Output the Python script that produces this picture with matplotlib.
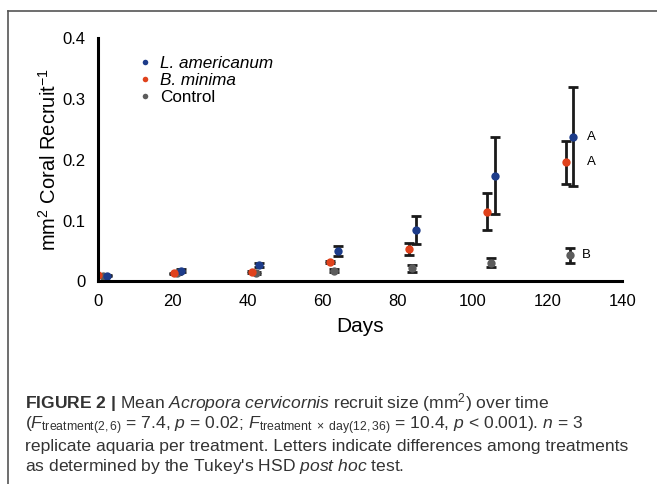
import numpy as np
import matplotlib
matplotlib.use("Agg")
import matplotlib.pyplot as plt
from matplotlib.lines import Line2D

plt.rcParams["font.family"] = ["Liberation Sans", "DejaVu Sans"]
plt.rcParams["mathtext.fontset"] = "custom"
plt.rcParams["mathtext.rm"] = "Liberation Sans"
plt.rcParams["mathtext.it"] = "Liberation Sans:italic"
plt.rcParams["mathtext.bf"] = "Liberation Sans:bold"

# days (points are staggered by treatment)
days_bmin = [0, 20.3, 41.1, 62, 83, 104, 125]
days_ctrl = [1.3, 21, 42.2, 63, 84, 105, 126]
days_lam = [2.3, 22.1, 43, 64.1, 84.9, 106.1, 126.8]

# mean recruit size (mm2)
lam = [0.0095, 0.018, 0.027, 0.050, 0.085, 0.174, 0.238]
bmin = [0.010, 0.0135, 0.016, 0.032, 0.054, 0.115, 0.196]
ctrl = [0.0095, 0.0135, 0.0135, 0.018, 0.0216, 0.031, 0.043]

# standard errors
lam_err = [0.001, 0.002, 0.003, 0.008, 0.023, 0.063, 0.081]
bmin_err = [0.0, 0.001, 0.002, 0.002, 0.010, 0.031, 0.035]
ctrl_err = [0.0, 0.001, 0.002, 0.003, 0.0055, 0.007, 0.012]

letters = ["A", "A", "B"]

c_lam = "#1d3c8a"
c_bmin = "#e0421c"
c_ctrl = "#5c5c5c"

fig = plt.figure(figsize=(6.57, 4.84), dpi=100)
ax = fig.add_axes([0.149, 0.4184, 0.798, 0.503])

kw = dict(fmt="o", ms=6, ecolor="#1a1a1a", elinewidth=2, capsize=3.5, capthick=2, mec="none")
ax.errorbar(days_ctrl, ctrl, yerr=ctrl_err, color=c_ctrl, **kw)
ax.errorbar(days_lam, lam, yerr=lam_err, color=c_lam, **kw)
ax.errorbar(days_bmin, bmin, yerr=bmin_err, color=c_bmin, **kw)

# Tukey letters at the last time point
ax.text(days_lam[-1] + 4.9, lam[-1], letters[0], fontsize=9.5, va="center", ha="center")
ax.text(days_bmin[-1] + 6.7, bmin[-1], letters[1], fontsize=9.5, va="center", ha="center")
ax.text(days_ctrl[-1] + 4.5, ctrl[-1], letters[2], fontsize=9.5, va="center", ha="center")

ax.set_xlim(0, 140)
ax.set_ylim(0, 0.4)
ax.set_xticks(np.arange(0, 141, 20))
ax.set_yticks([0, 0.1, 0.2, 0.3, 0.4])
ax.set_yticklabels(["0", "0.1", "0.2", "0.3", "0.4"])
ax.tick_params(length=0, labelsize=12, pad=9)
for s in ["top", "right"]:
    ax.spines[s].set_visible(False)
for s in ["left", "bottom"]:
    ax.spines[s].set_linewidth(2.2)
ax.set_xlabel("Days", fontsize=15, labelpad=6)
ax.set_ylabel("mm$^2$ Coral Recruit$^{-1}$", fontsize=14.5, labelpad=2)

handles = [Line2D([], [], ls="none", marker="o", ms=4, color=c, mec="none") for c in (c_lam, c_bmin, c_ctrl)]
leg = ax.legend(handles, ["L. americanum", "B. minima", "Control"], loc="upper left",
                bbox_to_anchor=(0.045, 0.99), frameon=False, fontsize=12.3,
                handletextpad=0.35, labelspacing=0.12, handlelength=1)
leg.get_texts()[0].set_style("italic")
leg.get_texts()[1].set_style("italic")

# figure frame (cropped box)
fig.add_artist(Line2D([8 / 657, 1], [1 - 10.5 / 484] * 2, transform=fig.transFigure, color="#555555", lw=1.2))
fig.add_artist(Line2D([8 / 657] * 2, [0, 1 - 10.5 / 484], transform=fig.transFigure, color="#555555", lw=1.2))

cap = [
    r"$\mathbf{FIGURE\ 2\ |}$ Mean $\mathit{Acropora\ cervicornis}$ recruit size (mm$^2$) over time",
    r"($\mathit{F}_{\mathrm{treatment(2,6)}}$ = 7.4, $\mathit{p}$ = 0.02; $\mathit{F}_{\mathrm{treatment\ \times\ day(12,36)}}$ = 10.4, $\mathit{p}$ < 0.001). $\mathit{n}$ = 3",
    "replicate aquaria per treatment. Letters indicate differences among treatments",
    r"as determined by the Tukey's HSD $\mathit{post\ hoc}$ test.",
]
ys = [403, 426, 447, 467]
for t, y in zip(cap, ys):
    fig.text(25 / 657, 1 - y / 484, t, fontsize=12.6, color="#333333", va="center", ha="left")

fig.savefig("out.png", dpi=100)
